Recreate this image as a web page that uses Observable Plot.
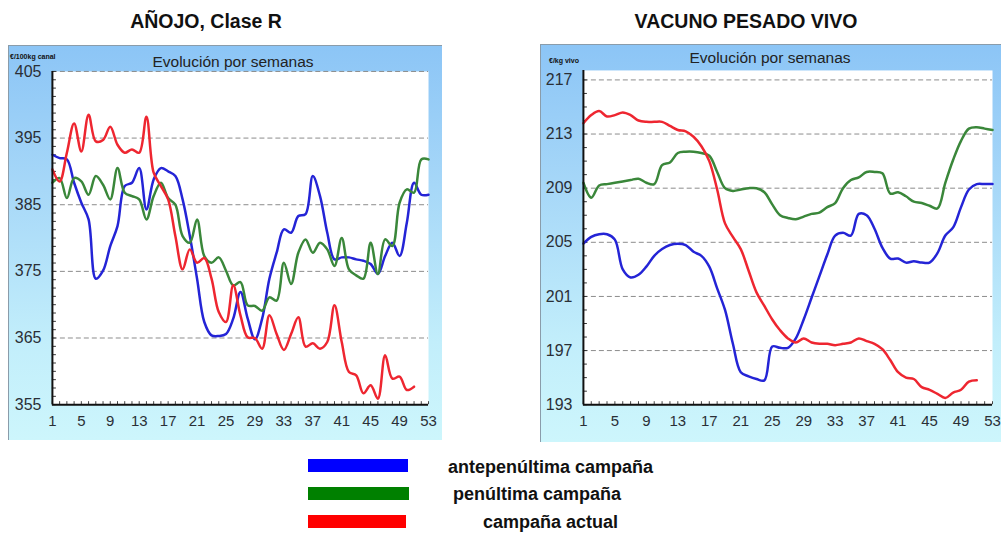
<!DOCTYPE html>
<html>
<head>
<meta charset="utf-8">
<script src="https://cdn.jsdelivr.net/npm/d3@7"></script>
<script src="https://cdn.jsdelivr.net/npm/@observablehq/plot@0.6"></script>
<style>
  body { margin: 0; background: #fff; font-family: "Liberation Sans", Arial, sans-serif; }
  #root { position: relative; width: 1001px; height: 534px; overflow: hidden; background: #fff; }
  .title { position: absolute; font-weight: bold; font-size: 19.5px; color: #111; transform: translateX(-50%); white-space: nowrap; }
  .panel { position: absolute; background: linear-gradient(to bottom, #8cc5f6 0%, #a6d7f8 35%, #c2eefb 75%, #cdf6fc 100%);
           border-left: 1px solid #8a9caa; border-top: 1px solid #8a9caa; box-sizing: border-box; }
  .panel svg { position: absolute; left: -1px; top: -1px; }
  .sub { position: absolute; font-size: 15.5px; color: #222; transform: translateX(-50%); white-space: nowrap; }
  .unit { position: absolute; font-size: 7px; font-weight: bold; color: #111; white-space: nowrap; }
  .sw { position: absolute; height: 13px; }
  .lt { position: absolute; font-size: 18px; font-weight: bold; color: #111; white-space: nowrap; transform: translateY(-50%); }
</style>
</head>
<body>
<div id="root">
  <div class="title" style="left:206px; top:10px;">AÑOJO, Clase R</div>
  <div class="title" style="left:746px; top:10px;">VACUNO PESADO VIVO</div>
  <div class="panel" id="pL" style="left:8px; top:45px; width:434px; height:395px;"></div>
  <div class="panel" id="pR" style="left:540px; top:44px; width:461px; height:398px;"></div>
  <div class="sub" style="left:233px; top:53px;">Evolución por semanas</div>
  <div class="sub" style="left:770px; top:49px;">Evolución por semanas</div>
  <div class="unit" style="left:10px; top:53px;">€/100kg canal</div>
  <div class="unit" style="left:549px; top:57px;">€/kg vivo</div>
  <div id="legend"></div>
</div>
<script>
const seriesNames = ["antepenúltima campaña", "penúltima campaña", "campaña actual"];
const lineColors = ["#2424d6", "#3a873a", "#ee2630"];
const legendColors = ["#0000ff", "#008000", "#ff0000"];

const weeks = d3.range(1, 54);
const xTickLabels = [1, 5, 9, 13, 17, 21, 25, 29, 33, 37, 41, 45, 49, 53];

// AÑOJO, Clase R (€/100kg canal)
const anojoAntepenultima = [392.5,392,391.8,388.3,385.3,382.8,373.9,375.1,378.8,381.8,387.8,388.3,390.5,384.3,388.8,390.5,390,389.3,385.8,380.3,373.9,367.4,365.4,365.3,365.6,367.9,371.9,367.9,364.8,367.9,373.9,377.8,381.3,380.8,383.3,383.6,389.3,386.3,380.8,376.8,377.1,377.1,376.8,376.6,376.1,374.6,377.3,379.3,377.3,382.3,388.3,386.5,386.5];
const anojoPenultima = [388.3,389,386,389,388.5,386.5,389.3,388,385.8,390.5,386.8,386.3,385.8,382.8,386.3,388.3,386,385,380.3,379.3,382.8,377.3,376.3,377.1,375.1,372.9,373.4,369.9,369.8,369.1,371.1,370.6,376.3,373.1,377.8,379.8,377.8,379.3,378.3,375.8,380,375.3,374.4,373.9,379.3,374.6,379.8,378.8,385.3,387.3,386.8,391.8,391.8];
const anojoActual = [390.3,388.5,392.8,397.2,393,398.5,394.5,394.7,396.7,394,392.8,393.3,392.8,398.2,389.8,387.8,385.8,380.3,375.3,378.3,376.3,377,373.9,368.9,367.4,372.9,368.4,365.1,365,363.4,368.4,365.6,363.2,365.6,368.1,363.7,364.2,363.4,364.4,369.9,364.4,359.9,359.4,356.7,357.9,355.9,362.4,358.9,359.2,357.2,357.7];
const anojoYTicks = [355, 365, 375, 385, 395, 405];
const anojoGrid = [365, 375, 385, 395, 405];
const anojoMinor = d3.range(355, 405.01, 1.25);

// VACUNO PESADO VIVO (€/kg vivo)
const vacunoAntepenultima = [204.9,205.4,205.6,205.6,205.2,203,202.4,202.6,203.2,204,204.5,204.8,204.9,204.8,204.3,204,203.2,201.6,200,197.5,195.4,195.1,194.9,194.8,197.3,197.2,197.2,197.9,199.3,200.9,202.5,204.1,205.5,205.7,205.5,207.1,207,206,204.6,203.8,203.8,203.5,203.6,203.5,203.5,204.2,205.5,206.1,207.6,208.9,209.3,209.3,209.3];
const vacunoPenultima = [209.4,208.3,209.2,209.3,209.4,209.5,209.6,209.7,209.4,209.3,210.7,210.9,211.6,211.7,211.7,211.6,211.4,210.2,209,208.8,208.9,209,209,208.7,207.8,207,206.8,206.7,206.9,207.1,207.2,207.6,207.9,209,209.6,209.8,210.2,210.2,210.1,208.6,208.7,208.4,208,207.9,207.7,207.5,209.4,211.1,212.5,213.4,213.5,213.4,213.3];
const vacunoActual = [213.8,214.4,214.7,214.3,214.4,214.6,214.4,214,213.9,213.9,213.9,213.6,213.3,213.2,212.8,212.1,211,208.9,206.4,205.4,204.5,202.9,201.3,200.3,199.3,198.5,197.9,197.6,197.9,197.6,197.5,197.5,197.4,197.5,197.6,197.9,197.7,197.5,197.1,196.3,195.4,195,194.9,194.3,194.1,193.8,193.5,193.9,194.1,194.7,194.8];
const vacunoYTicks = [193, 197, 201, 205, 209, 213, 217];
const vacunoGrid = [197, 201, 205, 209, 213, 217];
const vacunoMinor = d3.range(193, 217.01, 1);

function toRows(arrays) {
  const rows = [];
  arrays.forEach((vals, s) => vals.forEach((v, i) => rows.push({week: weeks[i], value: v, serie: seriesNames[s]})));
  return rows;
}

function chart({rows, yDomain, yTicks, grid, minor, width, height, margins}) {
  return Plot.plot({
    width, height, ...margins,
    style: {background: "transparent", fontFamily: "Liberation Sans, Arial, sans-serif", color: "#2a2f36", overflow: "visible"},
    x: {domain: [1, 53], label: null},
    y: {domain: yDomain, label: null},
    color: {domain: seriesNames, range: lineColors},
    marks: [
      Plot.frame({fill: "white", stroke: null}),
      Plot.ruleY(grid, {stroke: "#8c8c8c", strokeDasharray: "5,3", strokeWidth: 1}),
      Plot.axisY({ticks: minor, tickSize: -4, text: null, label: null, stroke: "#333"}),
      Plot.axisX({ticks: weeks, tickSize: -3, text: null, label: null, stroke: "#444"}),
      Plot.axisY({ticks: yTicks, tickSize: 0, tickPadding: 11, fontSize: 16, label: null, fill: "#2a2f36"}),
      Plot.axisX({ticks: xTickLabels, tickSize: 0, tickPadding: 11, fontSize: 15, label: null, fill: "#2a2f36"}),
      Plot.line(rows, {x: "week", y: "value", stroke: "serie", curve: "catmull-rom", strokeWidth: 2.5}),
      Plot.ruleX([1], {stroke: "#111", strokeWidth: 2}),
      Plot.ruleY([yDomain[0]], {stroke: "#111", strokeWidth: 2})
    ]
  });
}

const left = chart({
  rows: toRows([anojoAntepenultima, anojoPenultima, anojoActual]),
  yDomain: [355, 405], yTicks: anojoYTicks, grid: anojoGrid, minor: anojoMinor,
  width: 434, height: 395,
  margins: {marginLeft: 44, marginRight: 13, marginTop: 26, marginBottom: 35}
});
document.getElementById("pL").appendChild(left);

const right = chart({
  rows: toRows([vacunoAntepenultima, vacunoPenultima, vacunoActual]),
  yDomain: [193, 217.7], yTicks: vacunoYTicks, grid: vacunoGrid, minor: vacunoMinor,
  width: 461, height: 398,
  margins: {marginLeft: 43, marginRight: 8, marginTop: 26, marginBottom: 37}
});
document.getElementById("pR").appendChild(right);

// Legend
const legend = document.getElementById("legend");
const swY = [459, 487, 515];
const swW = [100, 101, 98];
const txtX = [448, 453, 483];
const txtY = [467, 494, 522];
seriesNames.forEach((n, i) => {
  const sw = document.createElement("div");
  sw.className = "sw";
  sw.style.cssText = `left:308px; top:${swY[i]}px; width:${swW[i]}px; background:${legendColors[i]};`;
  legend.appendChild(sw);
  const t = document.createElement("div");
  t.className = "lt";
  t.style.left = txtX[i] + "px";
  t.style.top = txtY[i] + "px";
  t.textContent = n;
  legend.appendChild(t);
});
</script>
</body>
</html>
